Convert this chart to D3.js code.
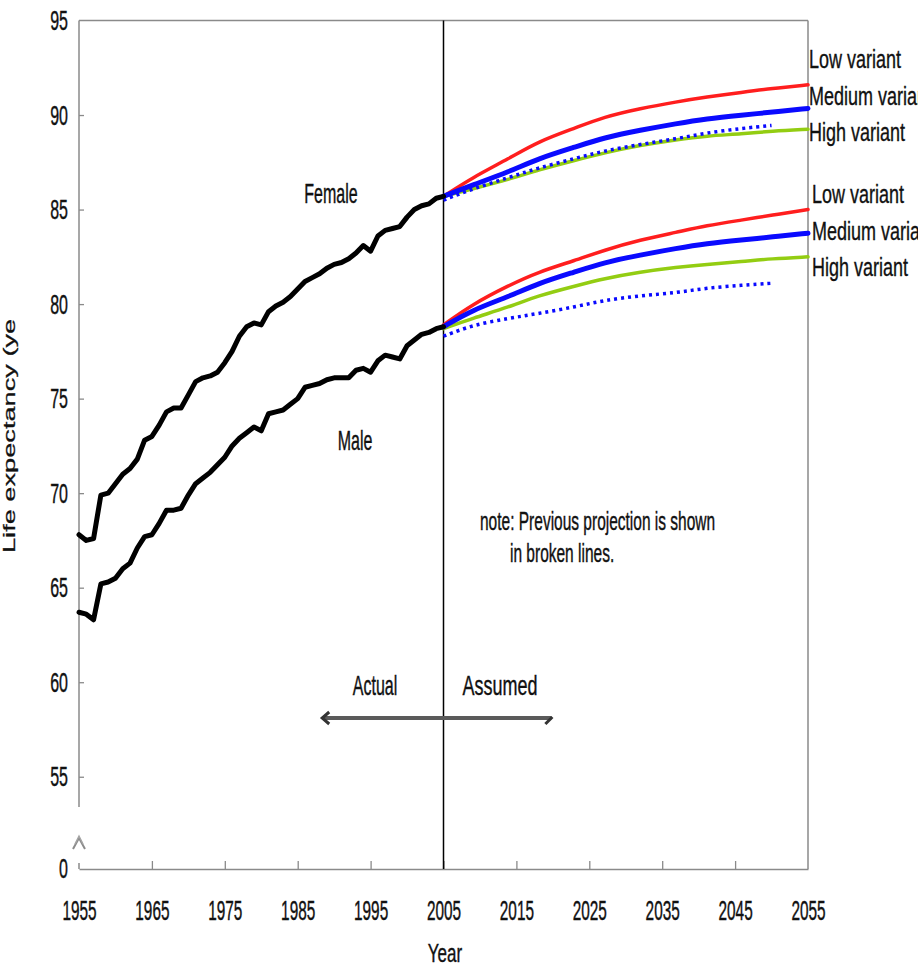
<!DOCTYPE html>
<html><head><meta charset="utf-8">
<script src="https://cdn.jsdelivr.net/npm/d3@7"></script>
<style>
body{margin:0;background:#fff}
svg{display:block}
text{font-family:"Liberation Sans",Arial,sans-serif;fill:#111;stroke:#111;stroke-width:0.25px}
</style>
</head><body>
<svg id="c" width="918" height="968"></svg>
<script>
// ---------------- data ----------------
const actualYears = [1955,1956,1957,1958,1959,1960,1961,1962,1963,1964,1965,1966,1967,1968,1969,1970,
  1971,1972,1973,1974,1975,1976,1977,1978,1979,1980,1981,1982,1983,1984,1985,1986,1987,1988,1989,1990,
  1991,1992,1993,1994,1995,1996,1997,1998,1999,2000,2001,2002,2003,2004,2005];
const femaleActual = [67.8,67.5,67.6,69.9,70.0,70.5,71.0,71.3,71.8,72.8,73.0,73.6,74.3,74.5,74.5,75.2,
  75.9,76.1,76.2,76.4,76.9,77.5,78.3,78.8,79.0,78.9,79.6,79.9,80.1,80.4,80.8,81.2,81.4,81.6,81.9,82.1,
  82.2,82.4,82.7,83.1,82.8,83.6,83.9,84.0,84.1,84.6,85.0,85.2,85.3,85.6,85.7];
const maleActual = [63.7,63.6,63.3,65.2,65.3,65.5,66.0,66.3,67.1,67.7,67.8,68.4,69.1,69.1,69.2,69.9,
  70.5,70.8,71.1,71.5,71.9,72.5,72.9,73.2,73.5,73.3,74.2,74.3,74.4,74.7,75.0,75.6,75.7,75.8,76.0,76.1,
  76.1,76.1,76.5,76.6,76.4,77.0,77.3,77.2,77.1,77.8,78.1,78.4,78.5,78.7,78.8];

const projYears  = [2005,2009,2014,2018,2023,2027,2032,2037,2041,2046,2050,2055];
const femaleLow  = [85.7,86.7,87.7,88.6,89.3,89.9,90.35,90.7,90.95,91.2,91.4,91.6];
const femaleMed  = [85.7,86.3,87.0,87.7,88.3,88.8,89.2,89.55,89.8,90.0,90.15,90.35];
const femaleHigh = [85.7,86.1,86.6,87.1,87.6,88.0,88.4,88.7,88.9,89.0,89.15,89.25];
const maleLow    = [78.9,80.0,81.0,81.7,82.3,82.85,83.4,83.8,84.15,84.45,84.7,85.0];
const maleMed    = [78.8,79.7,80.4,81.1,81.7,82.2,82.6,82.95,83.2,83.4,83.55,83.75];
const maleHigh   = [78.7,79.25,79.85,80.45,80.95,81.35,81.7,81.95,82.1,82.25,82.4,82.5];

const prevYears  = [2005,2009,2014,2018,2023,2027,2032,2037,2041,2046,2050];
const femalePrev = [85.5,86.1,86.7,87.2,87.7,88.1,88.45,88.75,89.05,89.3,89.45];
const malePrev   = [78.3,78.9,79.25,79.5,79.85,80.2,80.45,80.6,80.85,81.0,81.1];

const xTicks = [1955,1965,1975,1985,1995,2005,2015,2025,2035,2045,2055];
const yTicks = [0,55,60,65,70,75,80,85,90,95];
const variantLabels = ["Low variant","Medium variant","High variant"];
const splitYear = 2005;

// ---------------- layout ----------------
const svg = d3.select("#c");
const x = d3.scaleLinear().domain([1955,2055]).range([79,808]);
const y = d3.scaleLinear().domain([0,53.4,95]).range([869,807,20.5]);
const AX = "#8a8a8a";
const SY = 1.7;

function label(px, py, str, size, sy, anchor, rot){
  const g = svg.append("g").attr("transform",
    `translate(${px},${py}) scale(1,${sy})` + (rot ? ` rotate(${rot})` : ""));
  g.append("text").attr("font-size", size).attr("text-anchor", anchor || "start").text(str);
  return g;
}

// frame (top and right)
svg.append("line").attr("x1",x(1955)).attr("x2",x(2055)).attr("y1",y(95)).attr("y2",y(95))
  .attr("stroke",AX).attr("stroke-width",1.5);
svg.append("line").attr("x1",x(2055)).attr("x2",x(2055)).attr("y1",y(95)).attr("y2",y(0))
  .attr("stroke",AX).attr("stroke-width",1.5);

// x axis
const xAxis = svg.append("g").attr("transform",`translate(0,${y(0)})`)
  .call(d3.axisBottom(x).tickValues(xTicks).tickFormat(d3.format("d")).tickSizeInner(-8).tickSizeOuter(0));
xAxis.select(".domain").attr("stroke",AX).attr("stroke-width",1.5);
xAxis.selectAll(".tick line").attr("stroke",AX).attr("stroke-width",1.3)
  .filter(d => d === 1955 || d === 2055).remove();
xAxis.selectAll(".tick text").attr("fill","#111").attr("font-size",16)
  .attr("font-family","'Liberation Sans',Arial,sans-serif")
  .attr("y",30).attr("dy",0).attr("transform",`scale(0.96,${SY})`);

// y axis (broken)
const yAxis = svg.append("g").attr("transform",`translate(${x(1955)},0)`)
  .call(d3.axisLeft(y).tickValues(yTicks).tickFormat(d3.format("d")).tickSizeInner(-5).tickSizeOuter(0).tickPadding(11));
yAxis.select(".domain").remove();
yAxis.selectAll(".tick line").attr("stroke",AX).attr("stroke-width",1.3)
  .filter(d => d === 0 || d === 95).remove();
yAxis.selectAll(".tick text").attr("fill","#111").attr("font-size",16)
  .attr("font-family","'Liberation Sans',Arial,sans-serif")
  .attr("transform",`scale(1,${SY})`).attr("dy","0.33em");
svg.append("line").attr("x1",x(1955)).attr("x2",x(1955)).attr("y1",y(95)).attr("y2",y(53.4))
  .attr("stroke",AX).attr("stroke-width",1.5);
svg.append("line").attr("x1",x(1955)).attr("x2",x(1955)).attr("y1",y(0)-6).attr("y2",y(0))
  .attr("stroke",AX).attr("stroke-width",1.5);
// break symbol
svg.append("path").attr("d",`M${x(1955)-6},${y(0)-20} L${x(1955)},${y(0)-31} L${x(1955)+6},${y(0)-20}`)
  .attr("fill","none").attr("stroke","#8c8c8c").attr("stroke-width",2);
svg.append("path").attr("d",`M${x(1955)-4},${y(0)-25} L${x(1955)},${y(0)-33} L${x(1955)+4},${y(0)-25}`)
  .attr("fill","none").attr("stroke","#a5a5a5").attr("stroke-width",1.4);

// split line
svg.append("line").attr("x1",x(splitYear)).attr("x2",x(splitYear)).attr("y1",y(95)).attr("y2",y(0))
  .attr("stroke","#000").attr("stroke-width",1.5);

// ---------------- lines ----------------
const zip = (xs, vs) => xs.map((v,i) => [v, vs[i]]);
function draw(xs, vs, color, w, dash, curve){
  const line = d3.line().x(d => x(d[0])).y(d => y(d[1])).curve(curve || d3.curveLinear);
  const p = svg.append("path").datum(zip(xs, vs)).attr("d", line)
    .attr("fill","none").attr("stroke",color).attr("stroke-width",w)
    .attr("stroke-linejoin","round").attr("stroke-linecap", dash ? "butt" : "round");
  if (dash) p.attr("stroke-dasharray", dash);
}
const GREEN = "#93cd12", RED = "#ff1e1e", BLUE = "#0a0aff";
const S = d3.curveBasis;
draw(projYears, femaleHigh, GREEN, 3.5, null, S);
draw(projYears, maleHigh, GREEN, 3.5, null, S);
draw(projYears, femaleLow, RED, 3.5, null, S);
draw(projYears, maleLow, RED, 3.5, null, S);
draw(projYears, femaleMed, BLUE, 5, null, S);
draw(projYears, maleMed, BLUE, 5, null, S);
draw(prevYears, femalePrev, BLUE, 3.5, "3 4", S);
draw(prevYears, malePrev, BLUE, 3.5, "3 4", S);
draw(actualYears, femaleActual, "#000", 5);
draw(actualYears, maleActual, "#000", 5);

// ---------------- text ----------------
label(15, 553, "Life expectancy (ye", 16, SY, "start", -90);
label(445, 962, "Year", 17, 1.55, "middle");
label(331, 203, "Female", 16, SY, "middle");
label(355, 450, "Male", 16, SY, "middle");
label(480, 530, "note: Previous projection is shown", 15.5, SY, "start");
label(510, 562, "in broken lines.", 15.5, SY, "start");
label(375, 695, "Actual", 16, SY, "middle");
label(500, 695, "Assumed", 18, 1.5, "middle");

const femaleLabelY = [68, 105, 141], maleLabelY = [203, 240, 276];
variantLabels.forEach((t,i) => {
  label(809, femaleLabelY[i], t, 18, 1.4, "start");
  label(812, maleLabelY[i], t, 18, 1.4, "start");
});

// arrow Actual <-> Assumed
const ay = 718;
svg.append("line").attr("x1",x(1988.5)).attr("x2",x(2019.8)).attr("y1",ay).attr("y2",ay)
  .attr("stroke","#5a5a5a").attr("stroke-width",4);
svg.append("path").attr("d",`M${x(1988.5)+6},${ay-6} L${x(1988.5)-1},${ay} L${x(1988.5)+6},${ay+6}`)
  .attr("fill","none").attr("stroke","#333").attr("stroke-width",3);
svg.append("path").attr("d",`M${x(2019.8)-6},${ay+6} L${x(2019.8)+1},${ay-1}`)
  .attr("fill","none").attr("stroke","#333").attr("stroke-width",3);
</script>
</body></html>
